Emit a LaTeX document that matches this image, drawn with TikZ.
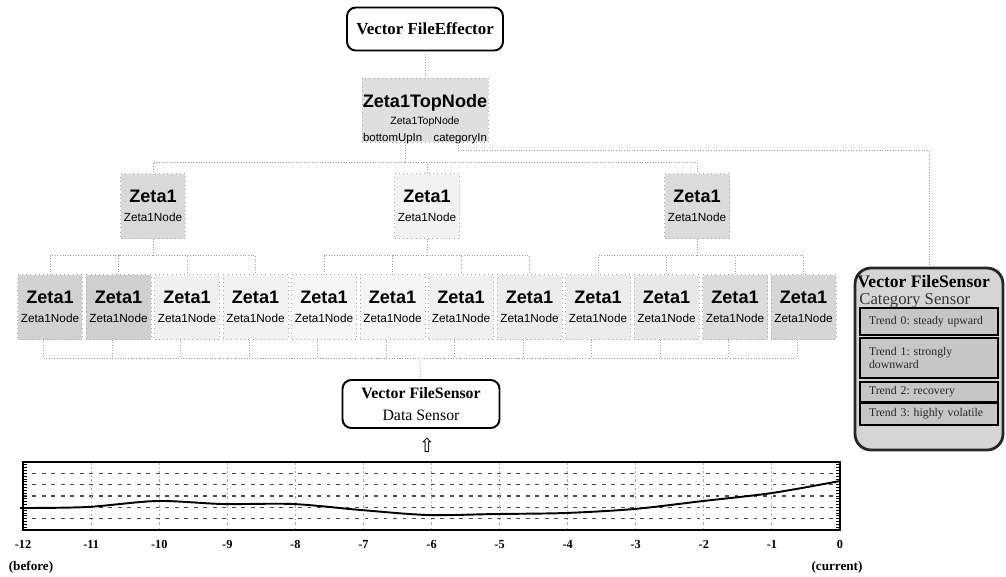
\documentclass[tikz,border=0pt]{standalone}
\usepackage{fontspec}
\setmainfont{Liberation Serif}
\setsansfont{Liberation Sans}
\newfontfamily\arrowfont{DejaVu Sans}
\newcommand\zbig{\fontsize{10.3}{11}\selectfont\sffamily\bfseries}
\newcommand\zsmall{\fontsize{6.7}{8}\selectfont\sffamily}
\newcommand\vfsize{\fontsize{9}{10.5}\selectfont}
\frenchspacing

\begin{document}
\begin{tikzpicture}[x=0.02cm,y=-0.02cm,
  zeta/.style={draw=gray!70,dotted,minimum width=1.3cm,minimum height=1.3cm,inner sep=0pt,align=center},
  vfbox/.style={draw,line width=1.1pt,rounded corners=5pt,fill=white,align=center,inner sep=0pt},
  link/.style={draw=gray!75,densely dotted,line width=0.5pt},
  trend/.style={draw,line width=1pt,fill=gray!45,minimum width=2.76cm,inner xsep=0.18cm,inner ysep=0pt,
    text width=2.4cm,align=left,font=\fontsize{6.7}{7.6}\selectfont,text=black!85},
  vgrid/.style={gray!70,dash pattern=on 1.5pt off 1.5pt on 0.4pt off 1.5pt,line width=0.5pt},
  hgrid/.style={black!70,dash pattern=on 2.2pt off 3.2pt,line width=0.6pt},
  axlab/.style={anchor=base,font=\fontsize{7}{8}\selectfont\bfseries}]
\useasboundingbox (0,0) rectangle (1006,576);

% tree of Zeta1 nodes
\node[vfbox,minimum width=3.12cm,minimum height=0.86cm] (eff) at (425,29) {\fontsize{9.6}{11}\selectfont\bfseries Vector FileEffector};
\node[zeta,fill=gray!25,minimum width=2.52cm,minimum height=1.28cm] (top) at (425,110)
  {\raisebox{-8.5pt}[0pt][0pt]{\begin{tabular}{@{}c@{}}{\zbig Zeta1TopNode}\\[-2.5pt]{\fontsize{6}{7}\selectfont\sffamily Zeta1TopNode}\\[-2pt]
   {\fontsize{6.5}{7.5}\selectfont\sffamily bottomUpIn\quad categoryIn}\end{tabular}}};
\coordinate (bu) at ([xshift=-0.4cm]top.south);
\coordinate (ci) at ([xshift=0.66cm]top.south);

\node[zeta,fill=gray!30] (m1) at (153,206) {{\zbig Zeta1}\\[-1pt]{\zsmall Zeta1Node}};
\node[zeta,fill=gray!10] (m2) at (427,206) {{\zbig Zeta1}\\[-1pt]{\zsmall Zeta1Node}};
\node[zeta,fill=gray!28] (m3) at (697,206) {{\zbig Zeta1}\\[-1pt]{\zsmall Zeta1Node}};

\foreach \j/\f in {1/35,2/38,3/12,4/10,5/8,6/8,7/12,8/15,9/15,10/18,11/28,12/32}
  \node[zeta,fill=gray!\f] (leaf\j) at ({50+68.5*(\j-1)},307) {{\zbig Zeta1}\\[-1pt]{\zsmall Zeta1Node}};

\draw[link] (eff) -- (top);
\draw[link] (bu) -- ++(0,20) coordinate (trunk);
\foreach \i in {1,2,3} \draw[link] (trunk) -| (m\i.north);
\foreach \i in {1,2,3} {
  \draw[link] (m\i.south) -- ++(0,17) coordinate (g\i);
  \foreach \k in {1,...,4} {
    \pgfmathtruncatemacro\j{4*(\i-1)+\k}
    \draw[link] (g\i) -| (leaf\j.north);
  }
}

% sensors
\node[vfbox,minimum width=3.14cm,minimum height=0.96cm] (data) at (421,404)
  {\vfsize\bfseries Vector FileSensor\\[1pt]\vfsize Data Sensor};
\coordinate (dbus) at (420,358);
\foreach \j in {1,...,12} \draw[link] ([xshift=-0.13cm]leaf\j.south) |- (dbus);
\draw[link] (dbus) -- (data);

\node[draw=black!85,line width=1.6pt,rounded corners=0.32cm,fill=gray!33,minimum width=2.96cm,minimum height=3.64cm] (cat) at (929,359) {};
\draw[link] (ci) -- ++(0,8) -| (cat.north);
\node[anchor=west,inner sep=0pt,font=\fontsize{10}{11}\selectfont\bfseries] (catname) at (857,282) {Vector FileSensor};
\node[anchor=west,inner sep=0pt,font=\fontsize{9.5}{11}\selectfont,text=black!80] (cattype) at (859,301) {Category Sensor};
\node[trend,minimum height=0.54cm] (tr0) at (929,321.5) {Trend 0: steady upward};
\node[trend,minimum height=0.8cm] (tr1) at (929,358) {Trend 1: strongly\\downward};
\node[trend,minimum height=0.4cm] (tr2) at (929,392) {Trend 2: recovery};
\node[trend,minimum height=0.44cm] (tr3) at (929,414) {Trend 3: highly volatile};

\node[font=\arrowfont\fontsize{11}{11}\selectfont,inner sep=0pt] (arr) at (427,445) {⇧};

% chart of the data
\foreach \r in {1,...,5} \draw[hgrid] (23,{462+11.33*\r}) -- (840,{462+11.33*\r});
\foreach \k in {1,...,11} \draw[vgrid] ({840-68.08*\k},462) -- ++(0,68);
\draw[line width=0.8pt] (23,462) rectangle (840,530);
\draw[line width=1.6pt] (23,462) -- (840,462);
\foreach \t in {0,...,24} {
  \draw[line width=0.4pt] (23,{462+2.83*\t}) -- ++(4,0);
  \draw[line width=0.4pt] (840,{462+2.83*\t}) -- ++(-4,0);
}
\draw[line width=1.1pt] plot[smooth] coordinates {(20,508) (87,507) (157,501) (223,504) (293,504) (361,510)
  (428,515) (496,514) (565,513) (634,509) (703,501) (772,493) (840,481)};
\foreach \k in {0,...,12}
  \node[axlab] (t\k) at ({840-68.08*\k},548) {\ifnum\k=0 0\else-\k\fi};
\node[axlab,font=\fontsize{7.5}{8}\selectfont\bfseries] (before) at (31,570) {(before)};
\node[axlab,font=\fontsize{7.5}{8}\selectfont\bfseries] (current) at (837,570) {(current)};
\end{tikzpicture}
\end{document}
